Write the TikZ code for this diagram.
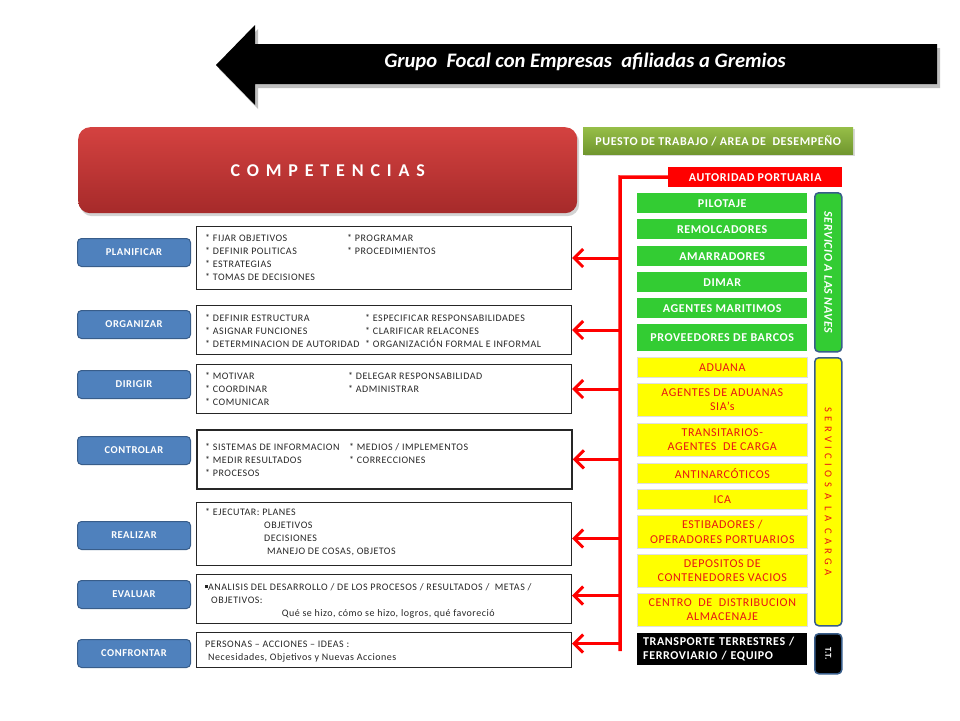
\documentclass[tikz,border=0pt]{standalone}
\usepackage{fontspec}
\setmainfont{Carlito}
\newfontfamily\trackfont[LetterSpace=5]{Carlito}
\newfontfamily\compfont[LetterSpace=38]{Carlito}
\newfontfamily\cargafont[LetterSpace=42]{Carlito}
\usetikzlibrary{arrows.meta,shadows}

\definecolor{btnblue}{RGB}{79,129,189}
\definecolor{btnedge}{RGB}{56,93,138}
\definecolor{navegreen}{RGB}{51,204,51}
\definecolor{cargayellow}{RGB}{255,255,0}
\definecolor{cargared}{RGB}{232,20,20}
\definecolor{portred}{RGB}{255,0,0}
\definecolor{comptop}{RGB}{212,66,64}
\definecolor{compbot}{RGB}{166,42,42}
\definecolor{headtop}{RGB}{150,190,72}
\definecolor{headbot}{RGB}{112,150,46}

\newcommand{\boxtext}{\fontsize{10}{13}\selectfont\trackfont}
\newcommand{\colfont}{\fontsize{12}{14.5}\selectfont\trackfont}

\begin{document}
\begin{tikzpicture}[x=1pt,y=-1pt,
    btn/.style={draw=btnedge, line width=1pt, fill=btnblue, rounded corners=4pt, anchor=north west,
      minimum width=113pt, minimum height=28pt, inner sep=0pt, text=white,
      font=\fontsize{10.5}{12}\selectfont\trackfont\bfseries},
    tbox/.style={draw=black!85, line width=1pt, anchor=north west, minimum width=375pt, inner sep=0pt},
    tlines/.style={anchor=north west, inner sep=0pt, font=\boxtext, text=black!85},
    nave/.style={fill=navegreen, anchor=north west, minimum width=170pt, inner sep=0pt, text=white,
      font=\colfont\bfseries, align=center},
    carga/.style={fill=cargayellow, draw=black!12, line width=0.6pt, anchor=north west, minimum width=170pt,
      inner sep=0pt, text=cargared, font=\colfont, align=center},
    sidebar/.style={draw=btnedge, line width=1.5pt, rounded corners=4pt, anchor=north west,
      minimum width=27pt, inner sep=0pt},
    redline/.style={draw=portred, line width=3.5pt},
    redarrow/.style={draw=portred, line width=3pt, {Straight Barb[length=9pt,width=18pt]}-},
  ]
  \useasboundingbox (0,0) rectangle (960,720);

  % title arrow
  \fill[black!50, opacity=0.5] (219,69) -- (258,29) -- (258,48) -- (940,48) -- (940,88) -- (258,88) -- (258,109) -- cycle;
  \fill[black] (216,65) -- (255,25) -- (255,44) -- (937,44) -- (937,84) -- (255,84) -- (255,105) -- cycle;
  \node[anchor=base, text=white, font=\fontsize{20.6}{24}\selectfont\bfseries\itshape] (title) at (585,67)
    {Grupo\ \ Focal con Empresas\ \ afiliadas a Gremios};

  % headers
  \node[rounded corners=12pt, top color=comptop, bottom color=compbot,
    drop shadow={opacity=0.35, shadow xshift=2pt, shadow yshift=-3pt},
    anchor=north west, minimum width=499pt, minimum height=86pt, inner sep=0pt, text=white,
    font=\fontsize{18}{22}\selectfont\compfont\bfseries] (comp) at (78,127) {COMPETENCIAS};
  \node[top color=headtop, bottom color=headbot, drop shadow={opacity=0.3, shadow xshift=2pt, shadow yshift=-2pt},
    anchor=north west, minimum width=270pt, minimum height=27pt, inner sep=0pt, text=white,
    font=\colfont\bfseries] (puesto) at (583,127) {PUESTO DE TRABAJO / AREA DE\ \ DESEMPEÑO};
  \node[fill=portred, anchor=north west, minimum width=174pt, minimum height=20pt, inner sep=0pt,
    text=white, font=\colfont\bfseries] (autoridad) at (668,167) {AUTORIDAD PORTUARIA};

  % left buttons
  \node[btn] (planificar) at (77,238) {PLANIFICAR};
  \node[btn] (organizar) at (77,310) {ORGANIZAR};
  \node[btn] (dirigir) at (77,370) {DIRIGIR};
  \node[btn] (controlar) at (77,436) {CONTROLAR};
  \node[btn] (realizar) at (77,521) {REALIZAR};
  \node[btn] (evaluar) at (77,580) {EVALUAR};
  \node[btn] (confrontar) at (77,639) {CONFRONTAR};

  % text boxes
  \node[tbox, minimum height=63pt] (b1) at (196,226) {};
  \node[tbox, minimum height=49pt] (b2) at (196,305) {};
  \node[tbox, minimum height=49pt] (b3) at (196,364) {};
  \node[tbox, minimum height=59pt, line width=1.8pt] (b4) at (196,429) {};
  \node[tbox, minimum height=63pt] (b5) at (196,502) {};
  \node[tbox, minimum height=49pt] (b6) at (196,574) {};
  \node[tbox, minimum height=35pt] (b7) at (196,632) {};

  \node[tlines] (t1) at ([shift={(9,6)}]b1.north west) {\begin{tabular}[t]{@{}p{142pt}@{}l@{}}
    {*} FIJAR OBJETIVOS & {*} PROGRAMAR\\
    {*} DEFINIR POLITICAS & {*} PROCEDIMIENTOS\\
    {*} ESTRATEGIAS & \\
    {*} TOMAS DE DECISIONES &
  \end{tabular}};
  \node[tlines] (t2) at ([shift={(9,7)}]b2.north west) {\begin{tabular}[t]{@{}p{160pt}@{}l@{}}
    {*} DEFINIR ESTRUCTURA & {*} ESPECIFICAR RESPONSABILIDADES\\
    {*} ASIGNAR FUNCIONES & {*} CLARIFICAR RELACONES\\
    {*} DETERMINACION DE AUTORIDAD & {*} ORGANIZACIÓN FORMAL E INFORMAL
  \end{tabular}};
  \node[tlines] (t3) at ([shift={(9,6)}]b3.north west) {\begin{tabular}[t]{@{}p{143pt}@{}l@{}}
    {*} MOTIVAR & {*} DELEGAR RESPONSABILIDAD\\
    {*} COORDINAR & {*} ADMINISTRAR\\
    {*} COMUNICAR &
  \end{tabular}};
  \node[tlines] (t4) at ([shift={(9,12)}]b4.north west) {\begin{tabular}[t]{@{}p{144pt}@{}l@{}}
    {*} SISTEMAS DE INFORMACION & {*} MEDIOS / IMPLEMENTOS\\
    {*} MEDIR RESULTADOS & {*} CORRECCIONES\\
    {*} PROCESOS &
  \end{tabular}};
  \node[tlines] (t5) at ([shift={(9,4)}]b5.north west) {\begin{tabular}[t]{@{}l@{}}
    {*} EJECUTAR: PLANES\\
    \hspace*{59pt}OBJETIVOS\\
    \hspace*{59pt}DECISIONES\\
    \hspace*{62pt}MANEJO DE COSAS, OBJETOS
  \end{tabular}};
  \node[tlines] (t6) at ([shift={(9,7)}]b6.north west) {\begin{tabular}[t]{@{}l@{}}
    \rule[2pt]{3pt}{3pt}ANALISIS DEL DESARROLLO / DE LOS PROCESOS / RESULTADOS /\ \ METAS /\\
    \hspace*{6pt}OBJETIVOS:\\
    \makebox[366pt]{Qué se hizo, cómo se hizo, logros, qué favoreció}
  \end{tabular}};
  \node[tlines] (t7) at ([shift={(9,6)}]b7.north west) {\begin{tabular}[t]{@{}l@{}}
    PERSONAS – ACCIONES – IDEAS :\\
    \hspace*{3pt}Necesidades,\ Objetivos\ y Nuevas Acciones
  \end{tabular}};

  % servicio a las naves
  \node[nave, minimum height=20pt] (pilotaje) at (637,193) {PILOTAJE};
  \node[nave, minimum height=20pt] (remolcadores) at (637,219) {REMOLCADORES};
  \node[nave, minimum height=20pt] (amarradores) at (637,246) {AMARRADORES};
  \node[nave, minimum height=20pt] (dimar) at (637,272) {DIMAR};
  \node[nave, minimum height=20pt] (agentesmar) at (637,298) {AGENTES MARITIMOS};
  \node[nave, minimum height=27pt] (proveedores) at (637,324) {PROVEEDORES DE BARCOS};

  % servicios a la carga
  \node[carga, minimum height=20pt] (aduana) at (637,357) {ADUANA};
  \node[carga, minimum height=33pt] (sias) at (637,383) {AGENTES DE ADUANAS\\SIA’s};
  \node[carga, minimum height=33pt] (transitarios) at (637,423) {TRANSITARIOS-\\AGENTES\ \ DE CARGA};
  \node[carga, minimum height=20pt] (antinarcoticos) at (637,463) {ANTINARCÓTICOS};
  \node[carga, minimum height=20pt] (ica) at (637,489) {ICA};
  \node[carga, minimum height=33pt] (estibadores) at (637,515) {ESTIBADORES /\\OPERADORES PORTUARIOS};
  \node[carga, minimum height=33pt] (depositos) at (637,554) {DEPOSITOS DE\\CONTENEDORES VACIOS};
  \node[carga, minimum height=33pt] (centro) at (637,593) {CENTRO\ \ DE\ \ DISTRIBUCION\\ALMACENAJE};
  \node[fill=black, anchor=north west, minimum width=170pt, minimum height=32pt, inner sep=0pt,
    text=white, font=\colfont\bfseries, align=left, text width=158pt] (transporte) at (637,633)
    {TRANSPORTE TERRESTRES /\\FERROVIARIO / EQUIPO};

  % side bars
  \node[sidebar, fill=navegreen, minimum height=159pt] (navesbar) at (814,192) {};
  \node[rotate=-90, text=white, font=\colfont\bfseries\itshape] (naveslbl) at (navesbar.center) {SERVICIO A LAS NAVES};
  \node[sidebar, fill=cargayellow, minimum height=268pt] (cargabar) at (814,357) {};
  \node[rotate=-90, text=cargared, font=\fontsize{10.5}{12}\selectfont\cargafont] (cargalbl) at (cargabar.center) {SERVICIOS A LA CARGA};
  \node[sidebar, fill=black, minimum height=40pt] (ttbar) at (814,633) {};
  \node[rotate=-90, text=white, font=\fontsize{9}{10}\selectfont\bfseries] (ttlbl) at (ttbar.center) {T.T.};

  % red connector
  \coordinate (spinetop) at (620,177);
  \coordinate (spinebot) at (620,651);
  \draw[redline] (autoridad.west) -- (spinetop) -- (spinebot);
  \draw[redarrow] (b1.east) -- (b1.east -| spinetop);
  \draw[redarrow] (b2.east) -- (b2.east -| spinetop);
  \draw[redarrow] (b3.east) -- (b3.east -| spinetop);
  \draw[redarrow] (b4.east) -- (b4.east -| spinetop);
  \draw[redarrow] ([yshift=-4.5pt]b5.east) -- ++(49,0);
  \draw[redarrow] ([yshift=3.5pt]b6.east) -- ++(49,0);
  \draw[redarrow] ([yshift=6.5pt]b7.east) -- ++(49,0);
\end{tikzpicture}
\end{document}
